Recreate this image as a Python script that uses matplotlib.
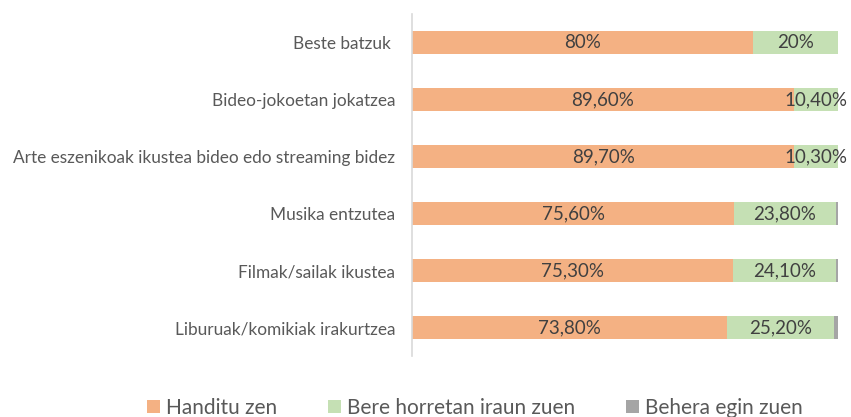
import matplotlib.pyplot as plt

plt.rcParams['font.family'] = ['Lato', 'DejaVu Sans']

categories = ["Beste batzuk ", "Bideo-jokoetan jokatzea",
              "Arte eszenikoak ikustea bideo edo streaming bidez",
              "Musika entzutea", "Filmak/sailak ikustea",
              "Liburuak/komikiak irakurtzea"]
handitu = [80.0, 89.6, 89.7, 75.6, 75.3, 73.8]
bere = [20.0, 10.4, 10.3, 23.8, 24.1, 25.2]
behera = [0.0, 0.0, 0.0, 0.6, 0.6, 1.0]
handitu_labels = ["80%", "89,60%", "89,70%", "75,60%", "75,30%", "73,80%"]
bere_labels = ["20%", "10,40%", "10,30%", "23,80%", "24,10%", "25,20%"]
series_names = ["Handitu zen", "Bere horretan iraun zuen", "Behera egin zuen"]

fig = plt.figure(figsize=(8.51, 4.17), dpi=100)
ax = fig.add_axes([0.484, 0.146, 0.501, 0.82])

ypos = list(range(len(categories)))[::-1]
left2 = handitu
left3 = [a + b for a, b in zip(handitu, bere)]

b1 = ax.barh(ypos, handitu, height=0.4, color="#F4B183", label=series_names[0])
b2 = ax.barh(ypos, bere, left=left2, height=0.4, color="#C5E0B4", label=series_names[1])
b3 = ax.barh(ypos, behera, left=left3, height=0.4, color="#A5A5A5", label=series_names[2])

for y, v, lab in zip(ypos, handitu, handitu_labels):
    ax.text(v / 2, y, lab, ha="center", va="center", fontsize=13.5, color="#404040")
for y, l, v, lab in zip(ypos, left2, bere, bere_labels):
    ax.text(l + v / 2, y, lab, ha="center", va="center", fontsize=13.5, color="#404040")

ax.set_xlim(0, 100)
ax.set_ylim(-0.5, 5.5)
ax.set_yticks(ypos)
ax.set_yticklabels(categories, fontsize=12.4, color="#595959")
ax.tick_params(axis="y", length=0, pad=12)
ax.set_xticks([])
for s in ["top", "right", "bottom"]:
    ax.spines[s].set_visible(False)
ax.spines["left"].set_color("#D9D9D9")
ax.spines["left"].set_linewidth(1.2)

fig.legend(handles=[b1, b2, b3], loc="center", bbox_to_anchor=(0.558, 0.022),
           ncol=3, frameon=False, fontsize=15, labelcolor="#595959",
           handlelength=0.65, handleheight=0.65, handletextpad=0.3, columnspacing=2.4)

fig.savefig("out.png", dpi=100)
